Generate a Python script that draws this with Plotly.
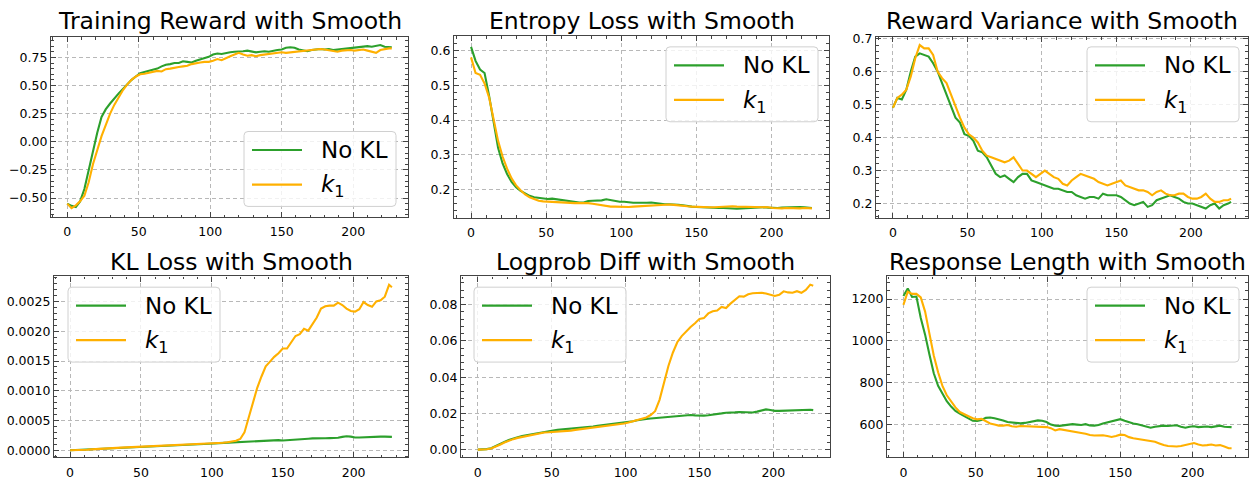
import plotly.graph_objects as go

W, H = 1253, 480

steps = list(range(0, 226, 3)) + [227]

reward_nokl = [-0.55, -0.57, -0.58, -0.53, -0.42, -0.25, -0.08, 0.08, 0.22, 0.29,
               0.34, 0.39, 0.43, 0.47, 0.51, 0.55, 0.58, 0.61, 0.62, 0.63,
               0.645, 0.65, 0.67, 0.685, 0.69, 0.70, 0.70, 0.715, 0.71, 0.705,
               0.72, 0.73, 0.74, 0.755, 0.775, 0.785, 0.78, 0.79, 0.795, 0.80,
               0.80, 0.805, 0.81, 0.80, 0.795, 0.80, 0.805, 0.80, 0.81, 0.815,
               0.82, 0.835, 0.84, 0.835, 0.82, 0.815, 0.805, 0.815, 0.82, 0.825,
               0.82, 0.825, 0.815, 0.82, 0.825, 0.83, 0.835, 0.84, 0.845, 0.845,
               0.85, 0.845, 0.855, 0.86, 0.845, 0.84, 0.84]
reward_k1 = [-0.55, -0.59, -0.565, -0.53, -0.48, -0.36, -0.20, -0.07, 0.05, 0.15,
             0.25, 0.33, 0.40, 0.46, 0.51, 0.55, 0.58, 0.60, 0.605, 0.615,
             0.625, 0.63, 0.625, 0.645, 0.65, 0.66, 0.665, 0.67, 0.675, 0.69,
             0.70, 0.705, 0.71, 0.71, 0.72, 0.735, 0.725, 0.745, 0.76, 0.775,
             0.79, 0.775, 0.765, 0.77, 0.76, 0.77, 0.775, 0.78, 0.785, 0.79,
             0.795, 0.79, 0.795, 0.80, 0.805, 0.81, 0.81, 0.815, 0.82, 0.825,
             0.82, 0.815, 0.81, 0.80, 0.81, 0.815, 0.815, 0.81, 0.815, 0.82,
             0.81, 0.80, 0.79, 0.815, 0.825, 0.83, 0.83]

entropy_nokl = [0.61, 0.57, 0.545, 0.535, 0.47, 0.40, 0.32, 0.275, 0.245, 0.222,
                0.207, 0.196, 0.188, 0.182, 0.178, 0.176, 0.173, 0.173, 0.174, 0.172,
                0.17, 0.167, 0.165, 0.164, 0.163, 0.163, 0.167, 0.168, 0.168, 0.169,
                0.172, 0.169, 0.166, 0.165, 0.165, 0.163, 0.162, 0.162, 0.161, 0.162,
                0.163, 0.161, 0.16, 0.158, 0.158, 0.158, 0.156, 0.155, 0.152, 0.151,
                0.15, 0.149, 0.148, 0.147, 0.146, 0.147, 0.147, 0.146, 0.145, 0.145,
                0.146, 0.147, 0.148, 0.148, 0.149, 0.149, 0.148, 0.147, 0.147, 0.148,
                0.149, 0.149, 0.149, 0.15, 0.149, 0.148, 0.147]
entropy_k1 = [0.58, 0.535, 0.53, 0.505, 0.465, 0.40, 0.34, 0.295, 0.26, 0.232,
              0.212, 0.198, 0.186, 0.178, 0.172, 0.168, 0.166, 0.165, 0.164, 0.163,
              0.162, 0.162, 0.161, 0.161, 0.161, 0.162, 0.161, 0.159, 0.157, 0.154,
              0.152, 0.151, 0.151, 0.15, 0.15, 0.15, 0.151, 0.152, 0.152, 0.153,
              0.154, 0.155, 0.156, 0.157, 0.157, 0.156, 0.154, 0.153, 0.152, 0.151,
              0.15, 0.149, 0.149, 0.149, 0.149, 0.15, 0.151, 0.152, 0.152, 0.151,
              0.151, 0.15, 0.15, 0.15, 0.151, 0.15, 0.149, 0.147, 0.146, 0.146,
              0.147, 0.146, 0.145, 0.146, 0.147, 0.147, 0.146]

variance_nokl = [0.49, 0.52, 0.515, 0.545, 0.60, 0.645, 0.655, 0.65, 0.645, 0.625,
                 0.60, 0.565, 0.53, 0.49, 0.46, 0.445, 0.41, 0.405, 0.39, 0.36,
                 0.355, 0.34, 0.315, 0.29, 0.28, 0.285, 0.275, 0.265, 0.28, 0.29,
                 0.29, 0.27, 0.265, 0.26, 0.255, 0.25, 0.245, 0.245, 0.24, 0.235,
                 0.235, 0.225, 0.22, 0.215, 0.22, 0.22, 0.215, 0.23, 0.225, 0.225,
                 0.225, 0.22, 0.21, 0.20, 0.195, 0.20, 0.205, 0.19, 0.195, 0.21,
                 0.215, 0.22, 0.225, 0.22, 0.215, 0.205, 0.20, 0.20, 0.195, 0.19,
                 0.185, 0.195, 0.20, 0.185, 0.195, 0.20, 0.205]
variance_k1 = [0.49, 0.52, 0.53, 0.545, 0.585, 0.64, 0.68, 0.67, 0.67, 0.65,
               0.60, 0.58, 0.565, 0.53, 0.49, 0.46, 0.43, 0.41, 0.40, 0.385,
               0.36, 0.345, 0.34, 0.335, 0.33, 0.325, 0.33, 0.34, 0.32, 0.30,
               0.30, 0.29, 0.28, 0.29, 0.30, 0.29, 0.28, 0.275, 0.26, 0.255,
               0.27, 0.28, 0.29, 0.285, 0.28, 0.275, 0.265, 0.26, 0.255, 0.26,
               0.265, 0.27, 0.255, 0.25, 0.245, 0.24, 0.24, 0.235, 0.225, 0.235,
               0.24, 0.23, 0.225, 0.225, 0.23, 0.23, 0.22, 0.215, 0.215, 0.22,
               0.23, 0.215, 0.205, 0.205, 0.21, 0.21, 0.215]

kl_nokl = [0.0, 0.000003, 0.000006, 0.00001, 0.000014, 0.00002, 0.000025, 0.00003, 0.000034, 0.000037,
           0.00004, 0.000043, 0.000046, 0.00005, 0.000053, 0.000056, 0.00006, 0.000062, 0.000064, 0.000067,
           0.00007, 0.000073, 0.000076, 0.000079, 0.000082, 0.000085, 0.000088, 0.00009, 0.000093, 0.000096,
           0.0001, 0.000103, 0.000107, 0.00011, 0.000115, 0.00012, 0.000124, 0.000128, 0.000132, 0.000136,
           0.00014, 0.000145, 0.00015, 0.000155, 0.00016, 0.000165, 0.000168, 0.00017, 0.000172, 0.00017,
           0.000165, 0.000168, 0.000172, 0.000178, 0.000185, 0.00019, 0.000195, 0.0002, 0.000198, 0.0002,
           0.000203, 0.000205, 0.000205, 0.00021, 0.000225, 0.000235, 0.00023, 0.000215, 0.000215, 0.00022,
           0.00022, 0.000222, 0.000225, 0.00023, 0.00023, 0.000228, 0.000225]
kl_k1 = [0.0, 0.0, 0.000002, 0.000005, 0.00001, 0.000016, 0.000022, 0.000027, 0.000031, 0.000035,
         0.000038, 0.000041, 0.000044, 0.000047, 0.00005, 0.000053, 0.000056, 0.000058, 0.00006, 0.000063,
         0.000066, 0.000069, 0.000072, 0.000075, 0.000078, 0.000081, 0.000084, 0.000087, 0.00009, 0.000093,
         0.000097, 0.0001, 0.000104, 0.000108, 0.000113, 0.000119, 0.000126, 0.000134, 0.000145, 0.00016,
         0.00019, 0.0003, 0.00055, 0.00082, 0.00105, 0.00124, 0.00141, 0.00149, 0.00157, 0.00163,
         0.00171, 0.00171, 0.00182, 0.00192, 0.00195, 0.00204, 0.00201, 0.00212, 0.00223, 0.00238,
         0.00242, 0.00243, 0.00243, 0.00248, 0.00244, 0.00238, 0.00234, 0.00233, 0.00237, 0.00249,
         0.00244, 0.00241, 0.0025, 0.00252, 0.00258, 0.00278, 0.00274]

logprob_nokl = [0.0, 0.0001, 0.0003, 0.0008, 0.0018, 0.003, 0.0042, 0.0053, 0.0062, 0.0069,
                0.0075, 0.008, 0.0085, 0.009, 0.0095, 0.0099, 0.0103, 0.0106, 0.0109, 0.0111,
                0.0113, 0.0116, 0.0119, 0.0121, 0.0123, 0.0126, 0.0128, 0.0131, 0.0134, 0.0137,
                0.014, 0.0143, 0.0146, 0.0149, 0.0153, 0.0157, 0.0162, 0.0167, 0.017, 0.0172,
                0.0174, 0.0176, 0.0177, 0.0179, 0.0183, 0.0186, 0.0188, 0.019, 0.0191, 0.0189,
                0.0187, 0.0188, 0.019, 0.0192, 0.0196, 0.02, 0.0204, 0.0203, 0.0206, 0.0208,
                0.0207, 0.0208, 0.0205, 0.021, 0.0218, 0.0222, 0.0219, 0.0214, 0.0214, 0.0215,
                0.0216, 0.0217, 0.022, 0.0222, 0.0221, 0.022, 0.0218]
logprob_k1 = [0.0, 0.0, 0.0002, 0.0006, 0.0015, 0.0027, 0.0039, 0.005, 0.0058, 0.0065,
              0.007, 0.0076, 0.0082, 0.0088, 0.0092, 0.0095, 0.0096, 0.0097, 0.0098, 0.0099,
              0.0101, 0.0105, 0.0109, 0.0112, 0.0116, 0.0119, 0.0122, 0.0125, 0.0128, 0.0131,
              0.0134, 0.0137, 0.014, 0.0144, 0.015, 0.0157, 0.0163, 0.0169, 0.0178, 0.0191,
              0.0212, 0.0275, 0.0375, 0.0462, 0.0535, 0.0593, 0.0627, 0.0655, 0.0677, 0.0698,
              0.0722, 0.0726, 0.0752, 0.0764, 0.0768, 0.0788, 0.0782, 0.0806, 0.0827, 0.0847,
              0.0845, 0.0858, 0.0863, 0.0866, 0.0866, 0.0862, 0.0853, 0.0848, 0.0855, 0.0874,
              0.0868, 0.0866, 0.0875, 0.0866, 0.0882, 0.0911, 0.0905]

length_nokl = [1215, 1250, 1210, 1212, 1110, 1030, 935, 845, 785, 745,
               712, 686, 665, 652, 640, 630, 618, 617, 622, 632,
               634, 630, 626, 620, 612, 610, 611, 606, 608, 612,
               616, 620, 618, 612, 600, 595, 594, 597, 600, 602,
               600, 598, 602, 596, 595, 598, 605, 610, 614, 620,
               626, 618, 610, 605, 602, 596, 590, 585, 590, 592,
               595, 593, 595, 597, 590, 585, 590, 592, 588, 590,
               591, 588, 592, 595, 590, 588, 588]
length_k1 = [1172, 1235, 1225, 1225, 1208, 1140, 1035, 930, 850, 785,
             740, 710, 682, 660, 648, 640, 630, 625, 628, 615,
             605, 600, 595, 595, 598, 592, 590, 593, 592, 590,
             592, 590, 590, 588, 583, 572, 578, 575, 570, 568,
             564, 560, 556, 550, 548, 550, 549, 545, 541, 545,
             552, 550, 540, 535, 532, 530, 526, 522, 518, 510,
             502, 498, 496, 495, 498, 502, 508, 512, 505, 500,
             502, 505, 500, 502, 495, 487, 487]

x_ticks = [0, 50, 100, 150, 200]
series_names = ["No KL", "<i>k</i><sub>1</sub>"]

GREEN = "#2ca02c"
ORANGE = "#ffb000"
FONT = "DejaVu Sans"


def px_x(p):
    return p / W


def px_y(p):
    return 1 - p / H


panels = [
    dict(title="Training Reward with Smooth", a=reward_nokl, b=reward_k1,
         xd=(51, 408), yd=(32, 217), yr=[-0.67, 0.93], dtick=0.25, minor=0.05, fmt=".2f",
         leg=(244, 129), ty=15),
    dict(title="Entropy Loss with Smooth", a=entropy_nokl, b=entropy_k1,
         xd=(454, 829), yd=(31, 218), yr=[0.118, 0.641], dtick=0.1, minor=0.02, fmt=".1f",
         leg=(666, 42), ty=15),
    dict(title="Reward Variance with Smooth", a=variance_nokl, b=variance_k1,
         xd=(876, 1248), yd=(32, 218), yr=[0.156, 0.704], dtick=0.1, minor=0.02, fmt=".1f",
         leg=(1087, 42), ty=15),
    dict(title="KL Loss with Smooth", a=kl_nokl, b=kl_k1,
         xd=(54, 408), yd=(278, 464), yr=[-0.00012, 0.00292], dtick=0.0005, minor=0.0001, fmt=".4f",
         leg=(68, 289), ty=263),
    dict(title="Logprob Diff with Smooth", a=logprob_nokl, b=logprob_k1,
         xd=(461, 830), yd=(278, 464), yr=[-0.0043, 0.0956], dtick=0.02, minor=0.004, fmt=".2f",
         leg=(474, 289), ty=263),
    dict(title="Response Length with Smooth", a=length_nokl, b=length_k1,
         xd=(887, 1248), yd=(278, 464), yr=[443, 1308], dtick=200, minor=40, fmt="d",
         leg=(1087, 289), ty=263),
]

LEG_W, LEG_H, RAD = 152, 77, 4


def rounded_box(L, T):
    R, B = L + LEG_W, T + LEG_H
    rx, ry = RAD, RAD
    pts = [
        f"M {px_x(L + rx)},{px_y(T)}",
        f"L {px_x(R - rx)},{px_y(T)}",
        f"Q {px_x(R)},{px_y(T)} {px_x(R)},{px_y(T + ry)}",
        f"L {px_x(R)},{px_y(B - ry)}",
        f"Q {px_x(R)},{px_y(B)} {px_x(R - rx)},{px_y(B)}",
        f"L {px_x(L + rx)},{px_y(B)}",
        f"Q {px_x(L)},{px_y(B)} {px_x(L)},{px_y(B - ry)}",
        f"L {px_x(L)},{px_y(T + ry)}",
        f"Q {px_x(L)},{px_y(T)} {px_x(L + rx)},{px_y(T)}",
        "Z",
    ]
    return " ".join(pts)


fig = go.Figure()
layout = dict(
    width=W, height=H, margin=dict(l=0, r=0, t=0, b=0, pad=0),
    paper_bgcolor="white", plot_bgcolor="white",
    font=dict(family=FONT, size=12.5, color="black"),
    showlegend=False, annotations=[], shapes=[],
)

axis_common = dict(
    showline=True, linecolor="#444444", linewidth=1.2, mirror="allticks",
    ticks="inside", ticklen=5, tickwidth=1, tickcolor="#444444",
    showgrid=True, gridcolor="#b8b8b8", gridwidth=0.8, griddash="4px,3px",
    zeroline=False, tickfont=dict(family=FONT, size=12.5, color="black"),
)

for i, p in enumerate(panels, start=1):
    sfx = "" if i == 1 else str(i)
    xa, ya = "x" + sfx, "y" + sfx
    for vals, name, col in ((p["a"], series_names[0], GREEN), (p["b"], series_names[1], ORANGE)):
        assert len(vals) == len(steps)
        fig.add_trace(go.Scatter(x=steps, y=vals, mode="lines", name=name,
                                 line=dict(color=col, width=2.1),
                                 xaxis=xa, yaxis=ya, showlegend=False))
    layout["xaxis" + sfx] = dict(
        axis_common, domain=[px_x(p["xd"][0]), px_x(p["xd"][1])],
        range=[-11.35, 238.35], tickvals=x_ticks, anchor=ya, ticklabelstandoff=3,
        minor=dict(ticks="inside", ticklen=2.5, dtick=10, tick0=0, tickcolor="#444444", showgrid=False),
    )
    layout["yaxis" + sfx] = dict(
        axis_common, domain=[px_y(p["yd"][1]), px_y(p["yd"][0])],
        range=p["yr"], dtick=p["dtick"], tick0=0, tickformat=p["fmt"], anchor=xa,
        minor=dict(ticks="inside", ticklen=2.5, dtick=p["minor"], tick0=0, tickcolor="#444444", showgrid=False),
    )
    # title
    cx = (p["xd"][0] + p["xd"][1]) / 2
    layout["annotations"].append(dict(
        text=p["title"], x=px_x(cx), y=px_y(p["ty"]), xref="paper", yref="paper",
        xanchor="center", yanchor="middle", showarrow=False,
        font=dict(family=FONT, size=23.5, color="black"),
    ))
    # legend (box, sample lines, labels)
    L, T = p["leg"]
    layout["shapes"].append(dict(
        type="path", path=rounded_box(L, T), xref="paper", yref="paper",
        fillcolor="rgba(255,255,255,0.8)", line=dict(color="#d0d0d0", width=1), layer="above",
    ))
    for k, (name, col) in enumerate(((series_names[0], GREEN), (series_names[1], ORANGE))):
        ly = T + 19 + k * 35.5
        layout["shapes"].append(dict(
            type="line", xref="paper", yref="paper",
            x0=px_x(L + 8), x1=px_x(L + 58), y0=px_y(ly), y1=px_y(ly),
            line=dict(color=col, width=2.2), layer="above",
        ))
        layout["annotations"].append(dict(
            text=name, x=px_x(L + 75), y=px_y(ly + (2 if k == 1 else 0)), xref="paper", yref="paper",
            xanchor="left", yanchor="middle", showarrow=False,
            font=dict(family=FONT, size=23, color="black"),
        ))

fig.update_layout(**layout)
fig.write_html("out.html", config={"displayModeBar": False},
               post_script="document.body.style.margin='0';document.body.style.overflow='hidden';")
